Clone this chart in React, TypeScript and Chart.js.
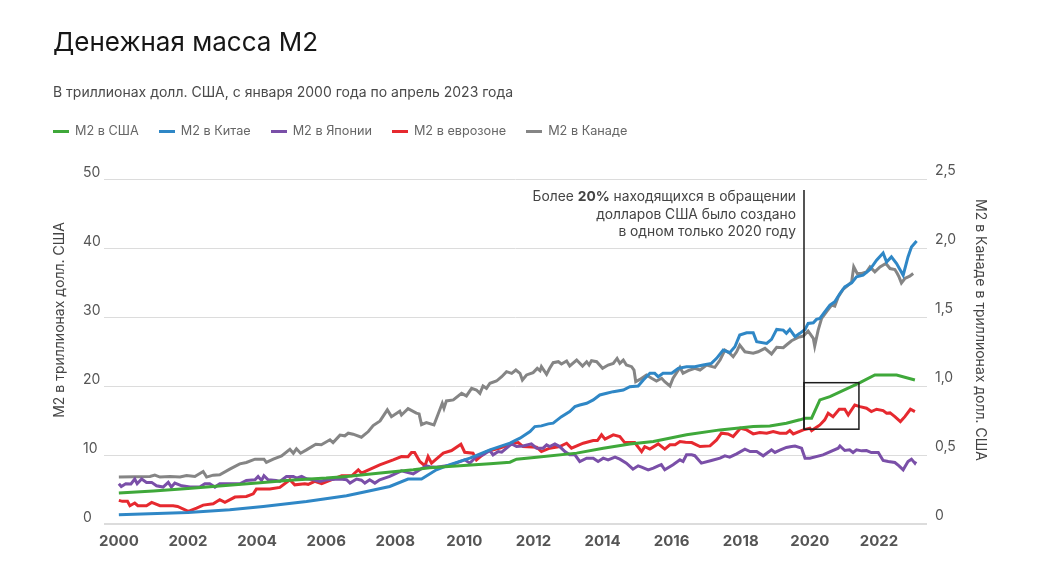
import React, { useEffect, useRef } from "react";
import { Chart, registerables } from "chart.js";

Chart.register(...registerables);

const title = "Денежная масса М2";
const subtitle = "В триллионах долл. США, с января 2000 года по апрель 2023 года";
const leftAxisTitle = "М2 в триллионах долл. США";
const rightAxisTitle = "М2 в Канаде в триллионах долл. США";
const seriesNames = ["М2 в США", "М2 в Китае", "М2 в Японии", "М2 в еврозоне", "М2 в Канаде"];
const seriesColors = ["#3fa83a", "#2f87c6", "#7a4fa8", "#e6292f", "#858585"];
const xTickYears = [2000, 2002, 2004, 2006, 2008, 2010, 2012, 2014, 2016, 2018, 2020, 2022];
const annotationLines = [
  [["Более ", false], ["20%", true], [" находящихся в обращении", false]],
  [["долларов США было создано", false]],
  [["в одном только 2020 году", false]],
] as [string, boolean][][];

// [decimal year, trillions USD]
const usM2: [number, number][] = [
  [2000.0, 4.48], [2001.0, 4.8], [2002.0, 5.15], [2003.0, 5.55], [2004.0, 5.95], [2004.95, 6.35],
  [2006.0, 6.65], [2006.59, 6.89], [2007.5, 7.35], [2008.52, 7.85], [2009.0, 8.15], [2009.87, 8.43],
  [2010.74, 8.72], [2011.32, 8.96], [2011.51, 9.4], [2012.09, 9.69], [2013.25, 10.27], [2014.02, 10.99],
  [2014.79, 11.6], [2015.47, 11.95], [2016.43, 12.92], [2017.4, 13.64], [2018.36, 14.12], [2018.84, 14.22],
  [2019.32, 14.61], [2019.71, 15.1], [2019.86, 15.33], [2020.05, 15.33], [2020.29, 17.98], [2020.58, 18.46],
  [2021.45, 20.48], [2021.88, 21.59], [2022.51, 21.59], [2023.04, 20.87],
];

const chinaM2: [number, number][] = [
  [2000.0, 1.35], [2002.0, 1.68], [2003.21, 2.07], [2004.18, 2.55], [2005.43, 3.27], [2006.59, 4.09],
  [2007.17, 4.72], [2007.84, 5.44], [2008.37, 6.51], [2008.76, 6.51], [2009.19, 7.85], [2009.58, 8.6],
  [2010.16, 9.54], [2010.74, 10.75], [2011.32, 11.71], [2011.61, 12.44], [2011.9, 13.4], [2012.04, 14.12],
  [2012.23, 14.22], [2012.43, 14.51], [2012.57, 14.61], [2012.81, 15.56], [2013.05, 16.29], [2013.2, 17.01],
  [2013.34, 17.25], [2013.54, 17.5], [2013.73, 17.98], [2013.92, 18.7], [2014.12, 18.94], [2014.31, 19.18],
  [2014.6, 19.42], [2014.79, 19.9], [2015.03, 20.0], [2015.18, 20.87], [2015.37, 21.84], [2015.51, 21.84],
  [2015.61, 21.35], [2015.75, 21.84], [2016.0, 21.84], [2016.19, 22.56], [2016.43, 22.8], [2016.67, 22.8],
  [2016.91, 23.04], [2017.15, 23.28], [2017.3, 24.01], [2017.49, 25.21], [2017.68, 24.82], [2017.83, 25.69],
  [2017.97, 27.38], [2018.17, 27.71], [2018.36, 27.71], [2018.46, 26.41], [2018.75, 26.18], [2018.89, 26.76],
  [2019.04, 28.2], [2019.23, 28.1], [2019.32, 27.63], [2019.42, 28.2], [2019.57, 27.14], [2019.71, 27.63],
  [2019.86, 28.2], [2019.95, 29.07], [2020.1, 29.16], [2020.19, 29.65], [2020.29, 29.79], [2020.43, 30.75],
  [2020.58, 31.72], [2020.72, 32.2], [2020.87, 33.41], [2021.01, 34.37], [2021.21, 34.94], [2021.35, 35.81],
  [2021.54, 36.06], [2021.74, 36.88], [2021.93, 38.23], [2022.12, 39.28], [2022.22, 37.98], [2022.36, 38.71],
  [2022.51, 37.75], [2022.7, 36.06], [2022.84, 38.71], [2022.94, 40.15], [2023.09, 41.02],
];

const japanM2: [number, number][] = [
  [2000.0, 5.83], [2000.07, 5.44], [2000.2, 5.83], [2000.35, 5.8], [2000.46, 6.51], [2000.53, 5.83],
  [2000.66, 6.51], [2000.8, 6.03], [2000.95, 6.03], [2001.09, 5.54], [2001.28, 5.35], [2001.43, 6.03],
  [2001.52, 5.35], [2001.62, 5.93], [2001.82, 5.54], [2002.06, 5.35], [2002.34, 5.35], [2002.49, 5.83],
  [2002.63, 5.83], [2002.78, 5.35], [2002.92, 5.83], [2003.5, 5.83], [2003.69, 6.31], [2003.94, 6.41],
  [2004.03, 6.89], [2004.13, 6.31], [2004.2, 6.99], [2004.32, 6.41], [2004.55, 6.3], [2004.66, 6.17],
  [2004.85, 6.89], [2005.05, 6.89], [2005.14, 6.65], [2005.29, 6.89], [2005.43, 6.55], [2005.63, 6.41],
  [2005.82, 6.17], [2006.01, 6.41], [2006.4, 6.51], [2006.59, 6.41], [2006.69, 5.93], [2006.88, 6.51],
  [2007.02, 6.35], [2007.12, 5.93], [2007.26, 6.41], [2007.41, 5.93], [2007.55, 6.41], [2007.84, 6.89],
  [2008.18, 7.71], [2008.52, 7.27], [2008.71, 7.85], [2008.9, 8.43], [2009.0, 8.3], [2009.19, 8.24],
  [2009.58, 8.5], [2010.01, 9.3], [2010.16, 8.82], [2010.35, 9.78], [2010.54, 10.02], [2010.74, 10.65],
  [2010.83, 10.02], [2010.98, 10.5], [2011.08, 10.4], [2011.22, 10.99], [2011.37, 11.61], [2011.51, 11.22],
  [2011.7, 11.3], [2011.94, 11.61], [2012.09, 10.99], [2012.28, 10.99], [2012.38, 11.47], [2012.47, 11.22],
  [2012.62, 11.61], [2012.76, 11.22], [2012.91, 10.5], [2013.05, 10.02], [2013.2, 10.02], [2013.34, 9.06],
  [2013.54, 9.54], [2013.73, 9.54], [2013.87, 9.06], [2014.02, 9.54], [2014.16, 9.3], [2014.36, 9.69],
  [2014.5, 9.4], [2014.69, 8.82], [2014.88, 7.95], [2015.03, 8.43], [2015.13, 8.24], [2015.32, 7.85],
  [2015.47, 8.1], [2015.61, 8.43], [2015.7, 8.6], [2015.8, 7.85], [2016.04, 8.58], [2016.24, 9.3],
  [2016.33, 9.06], [2016.43, 10.02], [2016.58, 10.02], [2016.67, 9.9], [2016.86, 8.82], [2017.15, 9.2],
  [2017.4, 9.54], [2017.54, 9.88], [2017.68, 9.69], [2017.88, 10.17], [2018.12, 10.85], [2018.27, 10.5],
  [2018.46, 10.5], [2018.65, 9.88], [2018.89, 10.75], [2018.99, 10.37], [2019.13, 10.7], [2019.32, 11.1],
  [2019.47, 11.22], [2019.57, 11.3], [2019.76, 10.99], [2019.86, 9.54], [2020.0, 9.54], [2020.38, 10.02],
  [2020.82, 10.99], [2020.87, 11.32], [2021.01, 10.65], [2021.15, 10.75], [2021.25, 10.36], [2021.35, 10.75],
  [2021.5, 10.6], [2021.64, 10.65], [2021.78, 10.36], [2021.98, 10.36], [2022.12, 9.2], [2022.27, 9.06],
  [2022.46, 8.91], [2022.58, 8.43], [2022.7, 7.85], [2022.84, 9.06], [2022.94, 9.4], [2023.04, 8.82],
  [2023.07, 9.06],
];

const euroM2: [number, number][] = [
  [2000.0, 3.42], [2000.1, 3.28], [2000.25, 3.28], [2000.32, 2.65], [2000.46, 3.04], [2000.55, 2.65],
  [2000.8, 2.65], [2000.95, 3.13], [2001.19, 2.65], [2001.57, 2.65], [2001.7, 2.55], [2002.01, 1.83],
  [2002.25, 2.31], [2002.44, 2.74], [2002.73, 2.94], [2002.92, 3.52], [2003.07, 3.13], [2003.36, 3.9],
  [2003.69, 4.0], [2003.89, 4.38], [2003.98, 5.06], [2004.37, 5.06], [2004.66, 5.3], [2004.95, 6.41],
  [2005.09, 5.68], [2005.38, 5.83], [2005.48, 5.75], [2005.67, 6.17], [2005.87, 5.83], [2006.2, 6.51],
  [2006.45, 6.99], [2006.74, 6.99], [2006.93, 7.85], [2007.02, 7.38], [2007.55, 8.58], [2007.94, 9.3],
  [2008.18, 9.78], [2008.37, 9.74], [2008.47, 10.36], [2008.56, 10.36], [2008.71, 9.06], [2008.86, 8.43],
  [2008.95, 9.78], [2009.05, 8.82], [2009.39, 10.27], [2009.63, 10.65], [2009.9, 11.55], [2010.01, 10.4],
  [2010.25, 10.27], [2010.35, 9.3], [2010.64, 10.5], [2011.03, 10.99], [2011.41, 11.71], [2011.56, 11.8],
  [2011.7, 11.22], [2012.09, 11.14], [2012.23, 10.5], [2012.47, 10.99], [2012.76, 11.22], [2012.96, 11.71],
  [2013.1, 10.99], [2013.44, 11.71], [2013.73, 12.09], [2013.85, 12.09], [2013.97, 12.92], [2014.07, 12.29],
  [2014.31, 12.92], [2014.5, 12.67], [2014.64, 11.8], [2014.93, 11.8], [2015.13, 10.5], [2015.22, 11.22],
  [2015.37, 10.85], [2015.61, 11.61], [2015.8, 10.85], [2015.95, 11.47], [2016.1, 11.47], [2016.24, 11.95],
  [2016.4, 11.85], [2016.58, 11.8], [2016.82, 11.22], [2017.11, 11.32], [2017.3, 12.19], [2017.44, 13.16],
  [2017.63, 13.06], [2017.78, 12.67], [2017.99, 13.88], [2018.17, 13.64], [2018.36, 13.06], [2018.55, 13.25],
  [2018.75, 13.16], [2018.94, 13.4], [2019.13, 13.16], [2019.32, 13.16], [2019.42, 13.54], [2019.52, 13.06],
  [2019.81, 13.64], [2020.0, 13.88], [2020.05, 13.54], [2020.29, 14.36], [2020.43, 15.09], [2020.53, 16.05],
  [2020.67, 15.56], [2020.85, 16.63], [2021.01, 16.63], [2021.11, 15.81], [2021.3, 17.25], [2021.45, 17.01],
  [2021.64, 16.78], [2021.78, 16.29], [2021.93, 16.63], [2022.12, 16.43], [2022.22, 16.05], [2022.32, 16.1],
  [2022.46, 15.56], [2022.62, 14.84], [2022.75, 15.56], [2022.91, 16.63], [2023.04, 16.29],
];

// right axis
const canadaM2: [number, number][] = [
  [2000.0, 0.34], [2000.9, 0.344], [2001.04, 0.354], [2001.19, 0.34], [2001.48, 0.344], [2001.77, 0.34],
  [2001.96, 0.351], [2002.2, 0.344], [2002.44, 0.38], [2002.54, 0.34], [2002.73, 0.354], [2002.92, 0.357],
  [2003.21, 0.398], [2003.5, 0.436], [2003.69, 0.446], [2003.94, 0.47], [2004.2, 0.47], [2004.27, 0.446],
  [2004.47, 0.47], [2004.71, 0.494], [2004.95, 0.542], [2005.05, 0.513], [2005.14, 0.545], [2005.26, 0.513],
  [2005.43, 0.537], [2005.7, 0.578], [2005.86, 0.574], [2006.11, 0.61], [2006.2, 0.59], [2006.4, 0.644],
  [2006.54, 0.639], [2006.64, 0.658], [2006.78, 0.651], [2007.02, 0.629], [2007.22, 0.67], [2007.36, 0.713],
  [2007.56, 0.747], [2007.77, 0.827], [2007.89, 0.778], [2008.13, 0.817], [2008.18, 0.79], [2008.37, 0.836],
  [2008.61, 0.803], [2008.69, 0.798], [2008.76, 0.72], [2008.9, 0.735], [2009.12, 0.718], [2009.36, 0.875],
  [2009.41, 0.839], [2009.48, 0.892], [2009.68, 0.899], [2009.92, 0.947], [2010.06, 0.928], [2010.21, 0.983],
  [2010.35, 0.971], [2010.45, 0.947], [2010.54, 1.0], [2010.64, 0.983], [2010.74, 1.02], [2010.93, 1.036],
  [2011.08, 1.067], [2011.22, 1.104], [2011.37, 1.092], [2011.49, 1.116], [2011.61, 1.092], [2011.68, 1.044],
  [2011.8, 1.08], [2011.99, 1.097], [2012.11, 1.128], [2012.19, 1.111], [2012.23, 1.14], [2012.38, 1.085],
  [2012.47, 1.128], [2012.57, 1.169], [2012.72, 1.176], [2012.81, 1.159], [2012.96, 1.181], [2013.05, 1.145],
  [2013.25, 1.188], [2013.42, 1.145], [2013.54, 1.176], [2013.61, 1.152], [2013.68, 1.183], [2013.83, 1.176],
  [2014.0, 1.128], [2014.16, 1.152], [2014.31, 1.164], [2014.42, 1.2], [2014.5, 1.164], [2014.6, 1.188],
  [2014.69, 1.152], [2014.84, 1.14], [2014.91, 1.116], [2014.96, 1.031], [2015.08, 1.048], [2015.27, 1.08],
  [2015.42, 1.056], [2015.56, 1.036], [2015.71, 1.056], [2015.8, 1.031], [2015.95, 1.0], [2016.04, 1.056],
  [2016.24, 1.135], [2016.33, 1.092], [2016.48, 1.111], [2016.67, 1.128], [2016.82, 1.116], [2017.01, 1.152],
  [2017.25, 1.135], [2017.4, 1.188], [2017.54, 1.26], [2017.68, 1.237], [2017.78, 1.212], [2017.88, 1.248],
  [2017.97, 1.297], [2018.12, 1.248], [2018.36, 1.237], [2018.5, 1.248], [2018.7, 1.273], [2018.89, 1.232],
  [2019.04, 1.28], [2019.23, 1.278], [2019.32, 1.297], [2019.47, 1.328], [2019.66, 1.352], [2019.81, 1.362],
  [2019.95, 1.398], [2020.1, 1.345], [2020.14, 1.289], [2020.24, 1.405], [2020.34, 1.49], [2020.48, 1.538],
  [2020.63, 1.586], [2020.72, 1.579], [2020.82, 1.646], [2020.96, 1.7], [2021.11, 1.731], [2021.21, 1.755],
  [2021.27, 1.863], [2021.37, 1.815], [2021.5, 1.815], [2021.64, 1.827], [2021.74, 1.863], [2021.88, 1.827],
  [2022.03, 1.863], [2022.2, 1.888], [2022.32, 1.851], [2022.46, 1.844], [2022.53, 1.815], [2022.58, 1.791],
  [2022.65, 1.747], [2022.75, 1.779], [2022.89, 1.796], [2022.99, 1.815],
];

// annotation in data coordinates
const annotYearStart = 2019.83;
const annotYearEnd = 2021.42;
const annotBoxTop = 20.48;
const annotBoxBottom = 13.74;
const annotLineTop = 48.4;

const FONT = "Inter, 'Noto Sans', sans-serif";

const overlayPlugin = {
  id: "overlay",
  afterDatasetsDraw(chart: any) {
    const { ctx, scales } = chart;
    const xs = scales.x;
    const ys = scales.y;
    ctx.save();
    const lx = xs.getPixelForValue(annotYearStart);
    const rx = xs.getPixelForValue(annotYearEnd);
    const ty = ys.getPixelForValue(annotBoxTop);
    const by = ys.getPixelForValue(annotBoxBottom);
    const lt = ys.getPixelForValue(annotLineTop);
    ctx.strokeStyle = "#1c1c1c";
    ctx.lineWidth = 1.5;
    ctx.beginPath();
    ctx.moveTo(lx, lt);
    ctx.lineTo(lx, by);
    ctx.stroke();
    ctx.strokeRect(lx, ty, rx - lx, by - ty);

    // annotation text, right aligned
    ctx.fillStyle = "#444";
    ctx.textBaseline = "middle";
    ctx.textAlign = "left";
    const rightX = lx - 8;
    const fs = 13.8;
    annotationLines.forEach((parts, i) => {
      const yy = lt + 7 + i * 17.5;
      let total = 0;
      const widths = parts.map(([t, b]) => {
        ctx.font = `${b ? "bold " : ""}${fs}px ${FONT}`;
        const w = ctx.measureText(t).width;
        total += w;
        return w;
      });
      let cx = rightX - total;
      parts.forEach(([t, b], j) => {
        ctx.font = `${b ? "bold " : ""}${fs}px ${FONT}`;
        ctx.fillText(t, cx, yy);
        cx += widths[j];
      });
    });

    // axis titles
    ctx.font = `14px ${FONT}`;
    ctx.fillStyle = "#444";
    ctx.textAlign = "center";
    ctx.textBaseline = "middle";
    ctx.save();
    ctx.translate(60, 320);
    ctx.rotate(-Math.PI / 2);
    ctx.fillText(leftAxisTitle, 0, 0);
    ctx.restore();
    ctx.save();
    ctx.translate(980, 330);
    ctx.rotate(Math.PI / 2);
    ctx.fillText(rightAxisTitle, 0, 0);
    ctx.restore();
    ctx.restore();
  },
};

const fmtRight = (v: number) => (v === 0 ? "0" : v.toFixed(1).replace(".", ","));

export default function App() {
  const ref = useRef<HTMLCanvasElement | null>(null);
  useEffect(() => {
    document.body.style.margin = "0";
    if (!ref.current) return;
    const all = [usM2, chinaM2, japanM2, euroM2, canadaM2];
    const chart = new Chart(ref.current, {
      type: "line",
      data: {
        datasets: all.map((s, i) => ({
          label: seriesNames[i],
          data: s.map(([x, y]) => ({ x, y })),
          borderColor: seriesColors[i],
          backgroundColor: seriesColors[i],
          borderWidth: 3,
          pointRadius: 0,
          tension: 0,
          fill: false,
          yAxisID: i === 4 ? "y2" : "y",
        })),
      },
      options: {
        responsive: false,
        animation: false,
        events: [],
        layout: { padding: { left: 83, top: 179, right: 0, bottom: 20 } },
        plugins: { legend: { display: false }, title: { display: false }, tooltip: { enabled: false } },
        scales: {
          x: {
            type: "linear",
            min: 1999.57,
            max: 2023.39,
            grid: { display: false, drawTicks: false },
            border: { display: false },
            ticks: {
              color: "#555",
              font: { family: FONT, size: 15, weight: "bold" },
              padding: 8,
              callback: (v: any) => String(v),
            },
            afterBuildTicks: (scale: any) => {
              scale.ticks = xTickYears.map((v) => ({ value: v }));
            },
            afterFit: (scale: any) => {
              scale.height = 40;
            },
          },
          y: {
            position: "left",
            min: 0,
            max: 50,
            grid: {
              color: "#dcdcdc",
              lineWidth: (c: any) => (c.tick && c.tick.value === 0 ? 2 : 1),
              drawTicks: false,
            },
            border: { display: false },
            ticks: {
              stepSize: 10,
              color: "#555",
              font: { family: FONT, size: 14 },
              crossAlign: "far",
              padding: 4,
              labelOffset: -6,
            },
            afterFit: (scale: any) => {
              scale.width = 21;
            },
          },
          y2: {
            position: "right",
            min: 0,
            max: 2.5,
            grid: { drawOnChartArea: false, drawTicks: false },
            border: { display: false },
            ticks: {
              stepSize: 0.5,
              color: "#555",
              font: { family: FONT, size: 14 },
              padding: 8,
              labelOffset: -8,
              callback: (v: any) => fmtRight(Number(v)),
            },
            afterFit: (scale: any) => {
              scale.width = 111;
            },
          },
        },
      } as any,
      plugins: [overlayPlugin],
    });
    return () => chart.destroy();
  }, []);

  return (
    <div style={{ position: "relative", width: 1038, height: 584, fontFamily: FONT, background: "#fff" }}>
      <canvas ref={ref} width={1038} height={584} style={{ position: "absolute", left: 0, top: 0 }} />
      <div style={{ position: "absolute", left: 53, top: 26, fontSize: 26, lineHeight: "32px", color: "#161616", whiteSpace: "nowrap" }}>
        {title}
      </div>
      <div style={{ position: "absolute", left: 53, top: 83, fontSize: 14, lineHeight: "18px", color: "#4a4a4a", whiteSpace: "nowrap" }}>
        {subtitle}
      </div>
      <div style={{ position: "absolute", left: 53, top: 123, display: "flex", alignItems: "center", fontSize: 12.7, lineHeight: "16px", color: "#666", whiteSpace: "nowrap" }}>
        {seriesNames.map((n, i) => (
          <div key={n} style={{ display: "flex", alignItems: "center", marginRight: 20 }}>
            <span style={{ display: "inline-block", width: 16, height: 3, background: seriesColors[i], marginRight: 6 }} />
            <span>{n}</span>
          </div>
        ))}
      </div>
    </div>
  );
}
